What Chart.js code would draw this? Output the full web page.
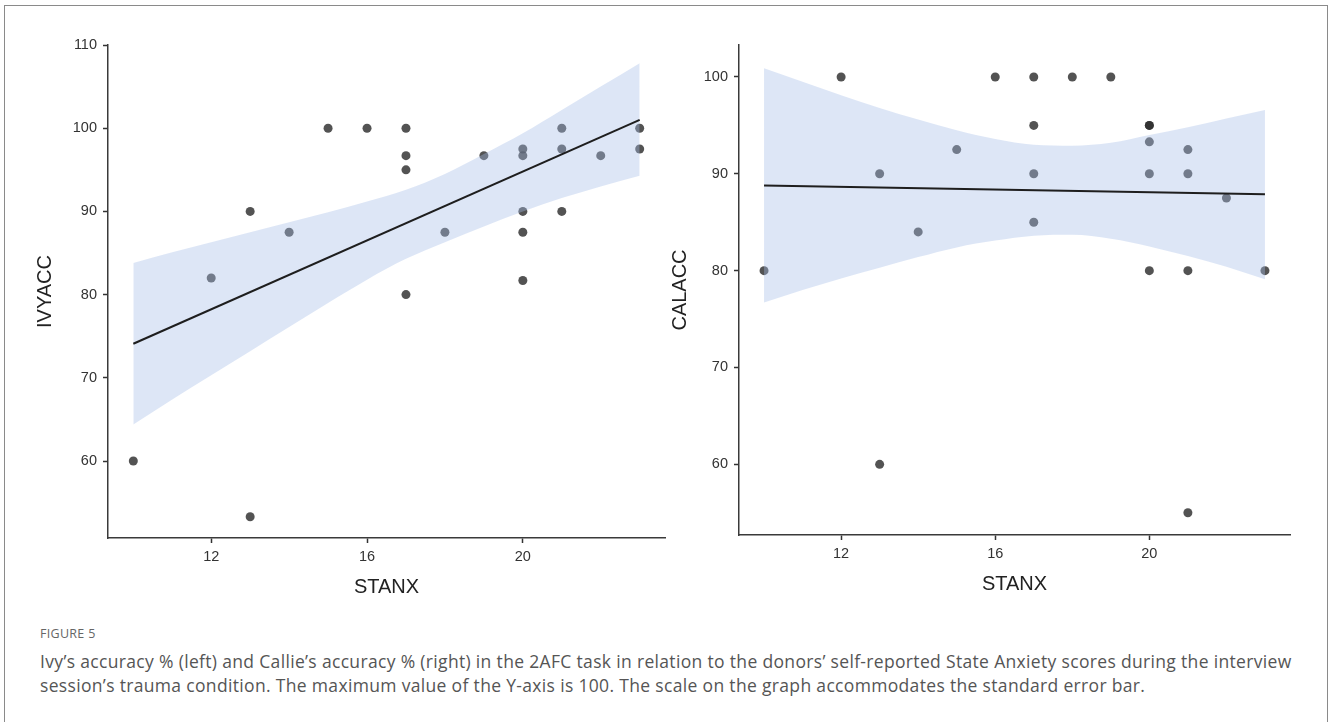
<!DOCTYPE html>
<html>
<head>
<meta charset="utf-8">
<script src="https://cdn.jsdelivr.net/npm/chart.js@4.4.1/dist/chart.umd.min.js"></script>
<style>
  html, body { margin: 0; padding: 0; background: #fff; }
  body { width: 1328px; height: 722px; position: relative; overflow: hidden; font-family: "Open Sans", sans-serif; }
  .frame { position: absolute; left: 4px; top: 5px; width: 1322px; height: 760px; border: 1px solid #8a8a8a; }
  #ivyChart { position: absolute; left: 29px; top: 30px; }
  #calChart { position: absolute; left: 664px; top: 30px; }
  .caption { position: absolute; left: 40px; top: 623px; width: 1280px; color: #555; }
  .fig { font-size: 12.5px; letter-spacing: 0.3px; color: #666; line-height: 22px; }
  .text { font-size: 17.5px; letter-spacing: 0.33px; line-height: 24px; margin-top: 4px; white-space: nowrap; }
</style>
</head>
<body>
<div class="frame"></div>
<canvas id="ivyChart" width="652" height="580"></canvas>
<canvas id="calChart" width="642" height="580"></canvas>
<div class="caption">
  <div class="fig">FIGURE 5</div>
  <div class="text">Ivy’s accuracy % (left) and Callie’s accuracy % (right) in the 2AFC task in relation to the donors’ self-reported State Anxiety scores during the interview<br>session’s trauma condition. The maximum value of the Y-axis is 100. The scale on the graph accommodates the standard error bar.</div>
</div>
<script>
// STANX scores and accuracy (%)
const stanxIvy = [10, 12, 13, 13, 14, 15, 16, 17, 17, 17, 17, 18, 19, 20, 20, 20, 20, 20, 21, 21, 21, 22, 23, 23];
const ivyAcc   = [60, 82, 90, 53.3, 87.5, 100, 100, 100, 96.7, 95, 80, 87.5, 96.7, 97.5, 96.7, 90, 87.5, 81.7, 100, 97.5, 90, 96.7, 100, 97.5];

const stanxCal = [10, 12, 13, 13, 14, 15, 16, 17, 17, 17, 17, 18, 19, 20, 20, 20, 20, 20, 21, 21, 21, 21, 22, 23];
const calAcc   = [80, 100, 90, 60, 84, 92.5, 100, 100, 95, 90, 85, 100, 100, 95, 95, 93.3, 90, 80, 92.5, 90, 80, 55, 87.5, 80];

// regression lines (ends) and confidence bands
const fitX = [10, 23];
const ivyFit = [74.1, 101.0];
const calFit = [88.8, 87.9];

const bandX = [10, 11, 12, 13, 14, 15, 16, 17, 18, 19, 20, 21, 22, 23];
const ivyLower = [64.4, 67.4, 70.3, 73.2, 76.1, 79.0, 81.8, 84.3, 86.3, 88.2, 90.0, 91.6, 93.0, 94.3];
const ivyUpper = [83.8, 85.1, 86.3, 87.5, 88.7, 89.9, 91.2, 92.6, 94.5, 96.9, 99.4, 102.2, 105.0, 107.8];
const calLower = [76.7, 78.0, 79.2, 80.3, 81.4, 82.4, 83.1, 83.6, 83.7, 83.3, 82.5, 81.5, 80.4, 79.1];
const calUpper = [100.9, 99.5, 98.1, 96.8, 95.6, 94.5, 93.6, 93.0, 92.9, 93.2, 94.0, 94.8, 95.7, 96.6];

const xTicks = [12, 16, 20];
const ivyYTicks = [60, 70, 80, 90, 100, 110];
const calYTicks = [60, 70, 80, 90, 100];

const axisFont = 'Liberation Sans, Arial, sans-serif';

function pairs(xs, ys) {
  return xs.map((x, i) => ({ x: x, y: ys[i] }));
}

function drawPanel(id, opts) {
  const canvas = document.getElementById(id);
  return new Chart(canvas, {
    type: 'line',
    data: {
      datasets: [
        {
          data: pairs(opts.x, opts.y),
          showLine: false,
          pointRadius: 4.5,
          pointBackgroundColor: 'rgba(45,45,45,0.82)',
          pointBorderWidth: 0,
          order: 3
        },
        {
          data: pairs(bandX, opts.lower),
          borderColor: 'rgba(0,0,0,0)',
          borderWidth: 1,
          pointRadius: 0,
          cubicInterpolationMode: 'monotone',
          fill: false,
          order: 2
        },
        {
          data: pairs(bandX, opts.upper),
          borderColor: 'rgba(0,0,0,0)',
          borderWidth: 1,
          pointRadius: 0,
          cubicInterpolationMode: 'monotone',
          fill: 1,
          backgroundColor: 'rgba(166,190,232,0.38)',
          order: 2
        },
        {
          data: pairs(fitX, opts.fit),
          borderColor: '#1e1e1e',
          borderWidth: 2,
          pointRadius: 0,
          fill: false,
          order: 1
        }
      ]
    },
    options: {
      responsive: false,
      animation: false,
      devicePixelRatio: 1,
      events: [],
      layout: { padding: { left: 0, top: 15, right: 16, bottom: opts.padBottom } },
      plugins: { legend: { display: false }, tooltip: { enabled: false } },
      scales: {
        x: {
          type: 'linear',
          min: 9.35,
          max: 23.65,
          afterFit: s => { s.height = 65; },
          afterBuildTicks: s => { s.ticks = xTicks.map(v => ({ value: v })); },
          grid: { drawOnChartArea: false, drawTicks: true, tickLength: 5, tickColor: '#333', tickWidth: 1.5 },
          border: { display: true, color: '#3a3a3a', width: 1.5 },
          ticks: { color: '#333', font: { family: axisFont, size: 14.5 }, padding: 5, maxRotation: 0 },
          title: { display: true, text: 'STANX', color: '#222', font: { family: axisFont, size: 20 }, padding: { top: 4, bottom: 4 } }
        },
        y: {
          type: 'linear',
          min: opts.yMin,
          max: opts.yMax,
          afterFit: s => { s.width = opts.yWidth; },
          afterBuildTicks: s => { s.ticks = opts.yTicks.map(v => ({ value: v })); },
          grid: { drawOnChartArea: false, drawTicks: true, tickLength: 5, tickColor: '#333', tickWidth: 1.5 },
          border: { display: true, color: '#3a3a3a', width: 1.5 },
          ticks: { color: '#333', font: { family: axisFont, size: 14.5 }, padding: 6 },
          title: { display: true, text: opts.yTitle, color: '#222', font: { family: axisFont, size: 20 }, padding: { top: 4, bottom: 4 } }
        }
      }
    }
  });
}

drawPanel('ivyChart', {
  x: stanxIvy, y: ivyAcc, lower: ivyLower, upper: ivyUpper, fit: ivyFit,
  yMin: 50.75, yMax: 110, yTicks: ivyYTicks, yTitle: 'IVYACC', yWidth: 79, padBottom: 7
});

drawPanel('calChart', {
  x: stanxCal, y: calAcc, lower: calLower, upper: calUpper, fit: calFit,
  yMin: 52.7, yMax: 103.3, yTicks: calYTicks, yTitle: 'CALACC', yWidth: 75, padBottom: 10
});
</script>
</body>
</html>
